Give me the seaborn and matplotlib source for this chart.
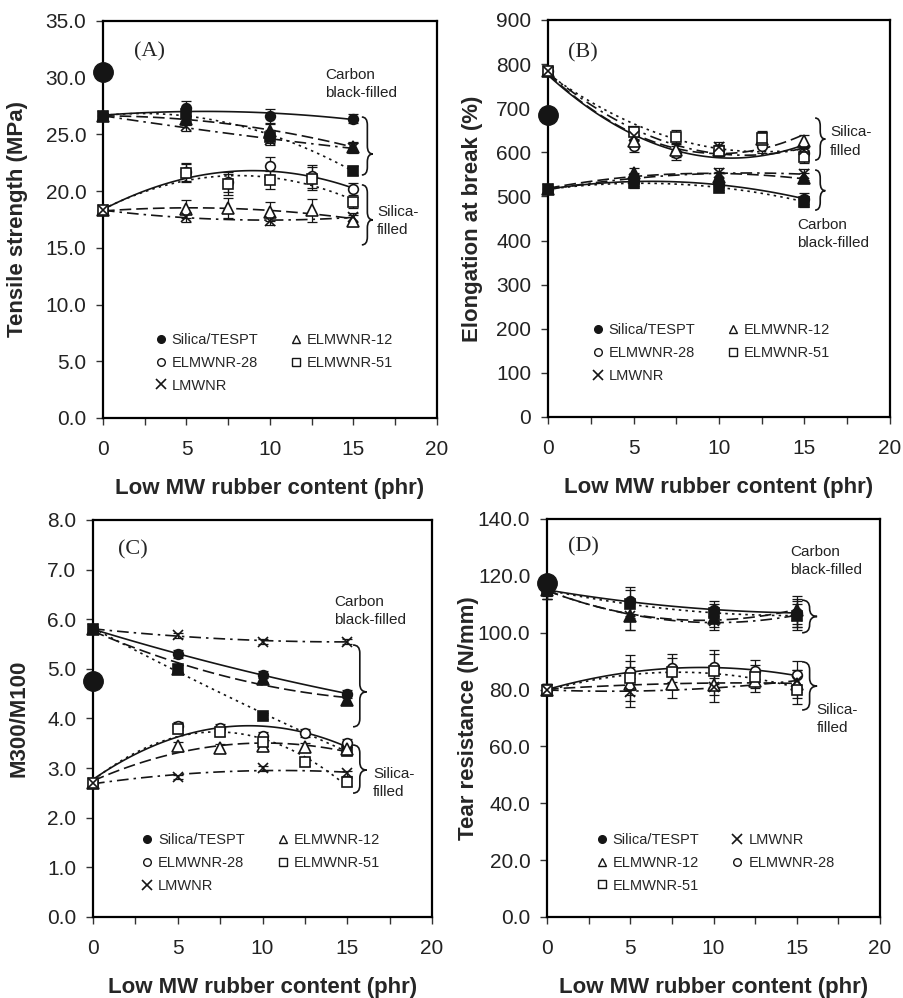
import numpy as np
import matplotlib
matplotlib.use("Agg")
import matplotlib.pyplot as plt
import seaborn as sns
from matplotlib.lines import Line2D
from matplotlib.path import Path
from matplotlib.patches import PathPatch
from matplotlib.ticker import FormatStrFormatter

sns.set_style("ticks")
plt.rcParams['font.family'] = ['Liberation Sans', 'DejaVu Sans']

# x positions (phr of low MW rubber)
x_cb = [0, 5, 10, 15]
x_si = [0, 5, 7.5, 10, 12.5, 15]
x_si_lmw = [0, 5, 10, 15]

# (A) tensile strength (MPa)
a_tespt = 30.5
a_cb_12 = [26.6, 26.4, 25.3, 23.9]
a_cb_28 = [26.6, 27.3, 26.6, 26.4]
a_cb_51 = [26.6, 26.8, 24.8, 21.8]
a_cb_lmw = [26.6, 25.7, 24.5, 23.8]
a_si_12 = [18.3, 18.4, 18.5, 18.2, 18.3, 17.4]
a_si_28 = [18.3, 21.7, 20.8, 22.2, 21.3, 20.2]
a_si_51 = [18.3, 21.6, 20.6, 21.0, 21.1, 19.0]
a_si_lmw = [18.3, 17.7, 17.4, 17.7]
a_err_cb = [0.3, 0.6, 0.6, 0.4]
a_err_si = [0.3, 0.8, 0.9, 0.8, 1.0, 0.5]
a_err_lmw = [0.3, 0.4, 0.4, 0.4]

# (B) elongation at break (%)
b_tespt = 685
b_cb_12 = [516, 552, 545, 542]
b_cb_28 = [516, 535, 525, 495]
b_cb_51 = [516, 530, 520, 488]
b_cb_lmw = [516, 540, 553, 550]
b_si_12 = [785, 625, 605, 605, 630, 625]
b_si_28 = [785, 615, 598, 605, 615, 598]
b_si_51 = [785, 645, 635, 603, 632, 590]
b_si_lmw = [785, 638, 612, 605]
b_err_cb = [8, 12, 10, 12]
b_err_si = [8, 14, 16, 12, 16, 15]
b_err_lmw = [8, 12, 12, 12]

# (C) M300/M100
c_tespt = 4.75
c_cb_12 = [5.8, 5.0, 4.8, 4.38]
c_cb_28 = [5.8, 5.3, 4.88, 4.5]
c_cb_51 = [5.8, 5.0, 4.05, 3.35]
c_cb_lmw = [5.8, 5.68, 5.55, 5.55]
c_si_12 = [2.7, 3.45, 3.4, 3.45, 3.42, 3.38]
c_si_28 = [2.7, 3.85, 3.8, 3.65, 3.7, 3.5]
c_si_51 = [2.7, 3.78, 3.72, 3.52, 3.12, 2.72]
c_si_lmw = [2.7, 2.82, 3.0, 2.9]
c_err_cb = [0.05, 0.08, 0.07, 0.08]
c_err_si = [0.05, 0.08, 0.08, 0.07, 0.08, 0.08]
c_err_lmw = [0.05, 0.05, 0.05, 0.05]

# (D) tear resistance (N/mm)
d_tespt = 117.5
d_cb_12 = [115, 106, 105, 108]
d_cb_28 = [115, 111, 108, 107]
d_cb_51 = [115, 110, 107, 106]
d_cb_lmw = [115, 106, 104, 106]
d_si_12 = [80, 82, 82, 81.5, 83, 82]
d_si_28 = [80, 86, 87.5, 88, 86.5, 85]
d_si_51 = [80, 84, 86, 86.5, 84.5, 80]
d_si_lmw = [80, 79, 81, 83]
d_err_cb = [3, 5, 3, 5]
d_err_si = [2, 6, 5, 6, 4, 5]
d_err_lmw = [2, 5, 3, 4]

# y axis ticks
a_yticks = [0, 5, 10, 15, 20, 25, 30, 35]
b_yticks = [0, 100, 200, 300, 400, 500, 600, 700, 800, 900]
c_yticks = [0, 1, 2, 3, 4, 5, 6, 7, 8]
d_yticks = [0, 20, 40, 60, 80, 100, 120, 140]
x_ticks = [0, 5, 10, 15, 20]

styles = {
    '12': ('^', (0, (7, 3))),
    '28': ('o', '-'),
    '51': ('s', (0, (1.5, 2.5))),
    'lmw': ('x', (0, (7, 3, 1.5, 3))),
}
ink = '#151515'


def draw_series(ax, x, y, err, key, filled):
    marker, ls = styles[key]
    sns.regplot(x=np.array(x, float), y=np.array(y, float), order=2, ci=None,
                scatter=False, ax=ax,
                line_kws=dict(color=ink, lw=1.2, linestyle=ls, zorder=2))
    ax.errorbar(x, y, yerr=err, fmt='none', ecolor=ink, elinewidth=0.9,
                capsize=3.5, capthick=0.9, zorder=3, clip_on=False)
    ms = 8 if marker == '^' else 7
    ax.plot(x, y, ls='none', marker=marker, ms=ms,
            mfc=ink if filled else 'white', mec=ink, mew=1.2,
            zorder=4, clip_on=False)


def brace(ax, x, y0, y1, ym, w):
    xm = x + w / 2
    r = 0.02
    verts = [(x, y1), (xm, y1), (xm, y1 - r), (xm, ym + r), (xm, ym), (x + w, ym),
             (xm, ym), (xm, ym - r), (xm, y0 + r), (xm, y0), (x, y0)]
    codes = [Path.MOVETO, Path.CURVE3, Path.CURVE3, Path.LINETO, Path.CURVE3,
             Path.CURVE3, Path.CURVE3, Path.CURVE3, Path.LINETO, Path.CURVE3, Path.CURVE3]
    ax.add_patch(PathPatch(Path(verts, codes), transform=ax.transAxes,
                           fill=False, lw=1.2, color=ink, clip_on=False))


def panel(ax, tespt, cb, si, errs, yticks, fmt, ylabel, tag, tagpos, ylab_x):
    for key, y in cb.items():
        err = errs[0] if key != 'lmw' else errs[2]
        draw_series(ax, x_cb, y, err, key, True)
    for key, y in si.items():
        if key == 'lmw':
            draw_series(ax, x_si_lmw, y, errs[2], key, False)
        else:
            draw_series(ax, x_si, y, errs[1], key, False)
    ax.plot([0], [tespt], ls='none', marker='o', ms=14, color=ink, zorder=5, clip_on=False)

    ax.set_xlim(0, 20)
    ax.set_ylim(yticks[0], yticks[-1])
    ax.set_xticks(x_ticks)
    ax.set_xticks([2.5, 7.5, 12.5, 17.5], minor=True)
    ax.set_yticks(yticks)
    ax.yaxis.set_major_formatter(FormatStrFormatter(fmt))
    ax.tick_params(axis='both', which='both', direction='out', length=5,
                   width=1, colors='#333333', labelsize=15, labelcolor='#222222')
    ax.tick_params(axis='x', which='major', pad=11)
    ax.tick_params(axis='y', pad=7)
    for s in ax.spines.values():
        s.set_linewidth(1.6)
        s.set_color('black')
    ax.set_xlabel('Low MW rubber content (phr)', fontsize=16, fontweight='bold')
    ax.set_ylabel(ylabel, fontsize=16, fontweight='bold')
    ax.xaxis.set_label_coords(0.5, -0.15)
    ax.yaxis.set_label_coords(ylab_x, 0.5)
    ax.text(tagpos[0], tagpos[1], tag, transform=ax.transAxes, ha='center', va='center',
            fontsize=16, family=['Liberation Serif', 'DejaVu Serif'])


def add_legend(ax, order, anchor):
    h = {
        'Silica/TESPT': Line2D([], [], ls='none', marker='o', ms=5.5, mfc=ink, mec=ink),
        'ELMWNR-12': Line2D([], [], ls='none', marker='^', ms=6, mfc='white', mec=ink),
        'ELMWNR-28': Line2D([], [], ls='none', marker='o', ms=5.5, mfc='white', mec=ink),
        'ELMWNR-51': Line2D([], [], ls='none', marker='s', ms=5.5, mfc='white', mec=ink),
        'LMWNR': Line2D([], [], ls='none', marker='x', ms=6.5, mfc='white', mec=ink, mew=1.2),
    }
    ax.legend([h[k] for k in order], order, ncol=2, loc='center', bbox_to_anchor=anchor,
              frameon=False, fontsize=10.5, handlelength=0.8, handletextpad=0.35,
              columnspacing=2.2, labelspacing=0.6)


def label(ax, x, y, txt):
    ax.text(x, y, txt, transform=ax.transAxes, ha='left', va='top', fontsize=11,
            linespacing=1.4, color='#222222')


fig = plt.figure(figsize=(9.04, 9.98), dpi=100)
axA = fig.add_axes([0.1139, 0.5812, 0.3695, 0.3978])
axB = fig.add_axes([0.6062, 0.5822, 0.3783, 0.3978])
axC = fig.add_axes([0.1029, 0.0812, 0.3750, 0.3978])
axD = fig.add_axes([0.6051, 0.0812, 0.3684, 0.3988])

panel(axA, a_tespt,
      {'28': a_cb_28, '12': a_cb_12, '51': a_cb_51, 'lmw': a_cb_lmw},
      {'28': a_si_28, '12': a_si_12, '51': a_si_51, 'lmw': a_si_lmw},
      (a_err_cb, a_err_si, a_err_lmw), a_yticks, '%.1f',
      'Tensile strength (MPa)', '(A)', (0.138, 0.922), -0.225)
panel(axB, b_tespt,
      {'28': b_cb_28, '12': b_cb_12, '51': b_cb_51, 'lmw': b_cb_lmw},
      {'28': b_si_28, '12': b_si_12, '51': b_si_51, 'lmw': b_si_lmw},
      (b_err_cb, b_err_si, b_err_lmw), b_yticks, '%d',
      'Elongation at break (%)', '(B)', (0.102, 0.917), -0.19)
panel(axC, c_tespt,
      {'28': c_cb_28, '12': c_cb_12, '51': c_cb_51, 'lmw': c_cb_lmw},
      {'28': c_si_28, '12': c_si_12, '51': c_si_51, 'lmw': c_si_lmw},
      (c_err_cb, c_err_si, c_err_lmw), c_yticks, '%.1f',
      'M300/M100', '(C)', (0.118, 0.924), -0.186)
panel(axD, d_tespt,
      {'28': d_cb_28, '12': d_cb_12, '51': d_cb_51, 'lmw': d_cb_lmw},
      {'28': d_si_28, '12': d_si_12, '51': d_si_51, 'lmw': d_si_lmw},
      (d_err_cb, d_err_si, d_err_lmw), d_yticks, '%.1f',
      'Tear resistance (N/mm)', '(D)', (0.108, 0.93), -0.205)

abc_order = ['Silica/TESPT', 'ELMWNR-28', 'LMWNR', 'ELMWNR-12', 'ELMWNR-51']
add_legend(axA, abc_order, (0.512, 0.139))
add_legend(axB, abc_order, (0.477, 0.161))
add_legend(axC, abc_order, (0.494, 0.136))
add_legend(axD, ['Silica/TESPT', 'ELMWNR-12', 'ELMWNR-51', 'LMWNR', 'ELMWNR-28'], (0.505, 0.136))

# group annotations
label(axA, 0.665, 0.882, 'Carbon\nblack-filled')
brace(axA, 0.775, 0.612, 0.758, 0.665, 0.033)
brace(axA, 0.775, 0.436, 0.587, 0.499, 0.033)
label(axA, 0.82, 0.537, 'Silica-\nfilled')

brace(axB, 0.781, 0.647, 0.753, 0.70, 0.03)
label(axB, 0.825, 0.735, 'Silica-\nfilled')
brace(axB, 0.781, 0.521, 0.622, 0.57, 0.03)
label(axB, 0.728, 0.501, 'Carbon\nblack-filled')

label(axC, 0.711, 0.811, 'Carbon\nblack-filled')
brace(axC, 0.767, 0.479, 0.685, 0.567, 0.04)
brace(axC, 0.767, 0.312, 0.433, 0.37, 0.04)
label(axC, 0.826, 0.378, 'Silica-\nfilled')

label(axD, 0.73, 0.935, 'Carbon\nblack-filled')
brace(axD, 0.766, 0.714, 0.796, 0.755, 0.045)
brace(axD, 0.766, 0.52, 0.641, 0.58, 0.045)
label(axD, 0.81, 0.538, 'Silica-\nfilled')

fig.savefig('out.png', dpi=100)
